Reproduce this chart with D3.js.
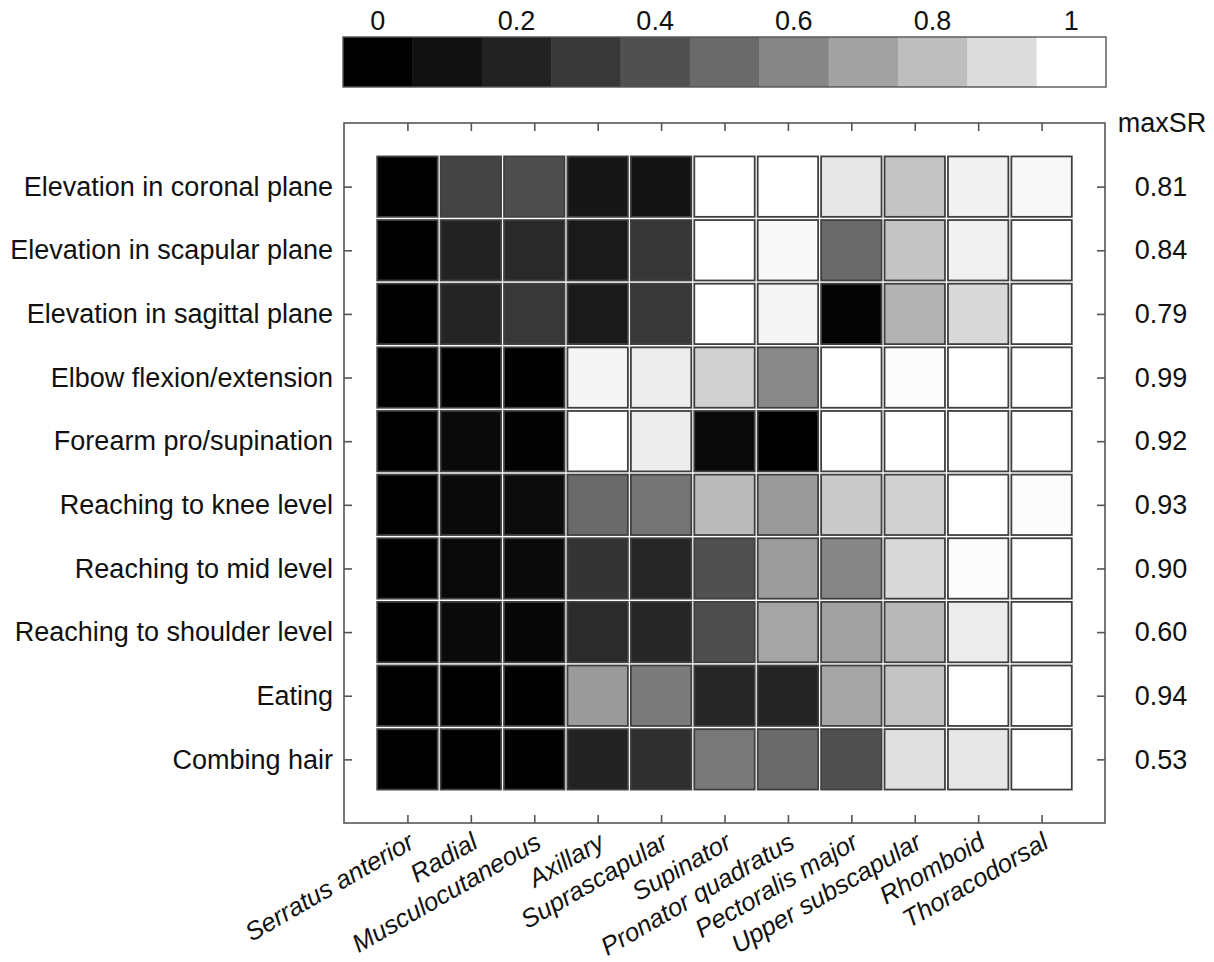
<!DOCTYPE html>
<html>
<head>
<meta charset="utf-8">
<script src="https://cdn.jsdelivr.net/npm/d3@7"></script>
<style>
  html, body { margin: 0; padding: 0; background: #fff; }
  svg { display: block; font-family: "Liberation Sans", Arial, Helvetica, sans-serif; }
</style>
</head>
<body>
<svg id="chart" width="1214" height="962"></svg>
<script>
// Movements (rows), top to bottom
const tasks = [
  "Elevation in coronal plane",
  "Elevation in scapular plane",
  "Elevation in sagittal plane",
  "Elbow flexion/extension",
  "Forearm pro/supination",
  "Reaching to knee level",
  "Reaching to mid level",
  "Reaching to shoulder level",
  "Eating",
  "Combing hair"
];

// Nerves (columns), left to right
const nerves = [
  "Serratus anterior", "Radial", "Musculocutaneous", "Axillary", "Suprascapular",
  "Supinator", "Pronator quadratus", "Pectoralis major", "Upper subscapular",
  "Rhomboid", "Thoracodorsal"
];

// Maximum success rate per movement
const maxSR = ["0.81", "0.84", "0.79", "0.99", "0.92", "0.93", "0.90", "0.60", "0.94", "0.53"];

// Normalised values, one row per movement, one entry per nerve
const rowCoronal   = [0, 0.35, 0.39, 0.13, 0.12, 1, 1, 0.93, 0.82, 0.96, 0.98];
const rowScapular  = [0, 0.20, 0.23, 0.15, 0.29, 1, 0.98, 0.50, 0.82, 0.96, 1];
const rowSagittal  = [0, 0.21, 0.30, 0.15, 0.30, 1, 0.97, 0.03, 0.76, 0.89, 1];
const rowElbow     = [0, 0, 0, 0.97, 0.95, 0.86, 0.61, 1, 0.99, 1, 1];
const rowForearm   = [0, 0.06, 0.01, 1, 0.95, 0.05, 0, 1, 1, 1, 1];
const rowKnee      = [0, 0.06, 0.07, 0.50, 0.54, 0.79, 0.67, 0.84, 0.86, 1, 0.99];
const rowMid       = [0, 0.05, 0.06, 0.28, 0.22, 0.40, 0.68, 0.60, 0.89, 0.99, 1];
const rowShoulder  = [0, 0.06, 0.04, 0.24, 0.22, 0.39, 0.71, 0.70, 0.78, 0.95, 1];
const rowEating    = [0, 0, 0, 0.67, 0.56, 0.22, 0.21, 0.71, 0.82, 1, 1];
const rowCombing   = [0, 0, 0, 0.20, 0.26, 0.55, 0.50, 0.40, 0.91, 0.93, 1];

const values = [rowCoronal, rowScapular, rowSagittal, rowElbow, rowForearm,
                rowKnee, rowMid, rowShoulder, rowEating, rowCombing];

// Colour bar levels and labelled ticks
const barLevels = [0, 0.1, 0.2, 0.3, 0.4, 0.5, 0.6, 0.7, 0.8, 0.9, 1];
const barTicks = [0, 0.2, 0.4, 0.6, 0.8, 1];

// ---------------------------------------------------------------------------

const svg = d3.select("#chart");
const textColor = "#111";
const lineColor = "#555";
const cellStroke = "#404040";
const fontSize = 27;

// grey ramp (value -> grey level)
const greyRamp = [0, 17, 34, 56, 80, 106, 134, 162, 190, 220, 255];
const grey = d3.scaleLinear()
  .domain(barLevels)
  .range(greyRamp.map(g => d3.rgb(g, g, g).formatHex()))
  .clamp(true);

// plot frame
const box = { left: 344, right: 1105, top: 123, bottom: 823 };

const x = d3.scalePoint().domain(nerves).range([box.left, box.right]).padding(1);
const y = d3.scalePoint().domain(tasks).range([box.top, box.bottom]).padding(1);
const cell = x.step() - 3;

// heat-map cells
const cells = [];
values.forEach((row, i) => row.forEach((v, j) => cells.push({ task: tasks[i], nerve: nerves[j], v })));

svg.append("g").selectAll("rect")
  .data(cells)
  .join("rect")
  .attr("x", d => x(d.nerve) - cell / 2)
  .attr("y", d => y(d.task) - cell / 2)
  .attr("width", cell)
  .attr("height", cell)
  .attr("fill", d => grey(d.v))
  .attr("stroke", cellStroke)
  .attr("stroke-width", 1.8);

// frame
svg.append("rect")
  .attr("x", box.left).attr("y", box.top)
  .attr("width", box.right - box.left).attr("height", box.bottom - box.top)
  .attr("fill", "none").attr("stroke", lineColor).attr("stroke-width", 1.6);

function styleAxis(g) {
  g.select(".domain").remove();
  g.selectAll(".tick line").attr("stroke", lineColor).attr("stroke-width", 1.6);
  g.selectAll("text").attr("fill", textColor).style("font-size", fontSize + "px")
    .style("font-family", "'Liberation Sans', Arial, sans-serif");
}

// top ticks
svg.append("g").attr("transform", `translate(0,${box.top})`)
  .call(d3.axisTop(x).tickSize(-8).tickFormat(""))
  .call(styleAxis);

// bottom ticks + nerve labels (italic, slanted)
const bottomAxis = svg.append("g").attr("transform", `translate(0,${box.bottom})`)
  .call(d3.axisBottom(x).tickSize(-8))
  .call(styleAxis);
bottomAxis.selectAll(".tick text")
  .attr("x", 0).attr("y", 0).attr("dy", 0)
  .attr("text-anchor", "end")
  .style("font-style", "italic")
  .style("font-size", "25.5px")
  .attr("transform", "translate(8,24) rotate(-30)");

// left ticks + task labels
svg.append("g").attr("transform", `translate(${box.left},0)`)
  .call(d3.axisLeft(y).tickSize(-8).tickPadding(11))
  .call(styleAxis);

// right ticks + maxSR values
const rightAxis = svg.append("g").attr("transform", `translate(${box.right},0)`)
  .call(d3.axisRight(y).tickSize(-8).tickPadding(56).tickFormat((d, i) => maxSR[i]))
  .call(styleAxis);
rightAxis.selectAll(".tick text").attr("text-anchor", "middle");

svg.append("text")
  .attr("x", box.right + 57).attr("y", 132)
  .attr("text-anchor", "middle")
  .attr("fill", textColor)
  .style("font-size", fontSize + "px")
  .text("maxSR");

// colour bar
const bar = { left: 343, right: 1106, top: 37, bottom: 87 };
const bx = d3.scaleBand().domain(barLevels).range([bar.left, bar.right]);

svg.append("g").selectAll("rect")
  .data(barLevels)
  .join("rect")
  .attr("x", d => bx(d))
  .attr("y", bar.top)
  .attr("width", bx.bandwidth() + 0.5)
  .attr("height", bar.bottom - bar.top)
  .attr("fill", d => grey(d));

svg.append("rect")
  .attr("x", bar.left).attr("y", bar.top)
  .attr("width", bar.right - bar.left).attr("height", bar.bottom - bar.top)
  .attr("fill", "none").attr("stroke", lineColor).attr("stroke-width", 1.4);

svg.append("g").attr("transform", `translate(0,${bar.top})`)
  .call(d3.axisTop(bx).tickValues(barTicks).tickSize(0).tickPadding(7).tickFormat(d3.format("~g")))
  .call(styleAxis);
</script>
</body>
</html>
